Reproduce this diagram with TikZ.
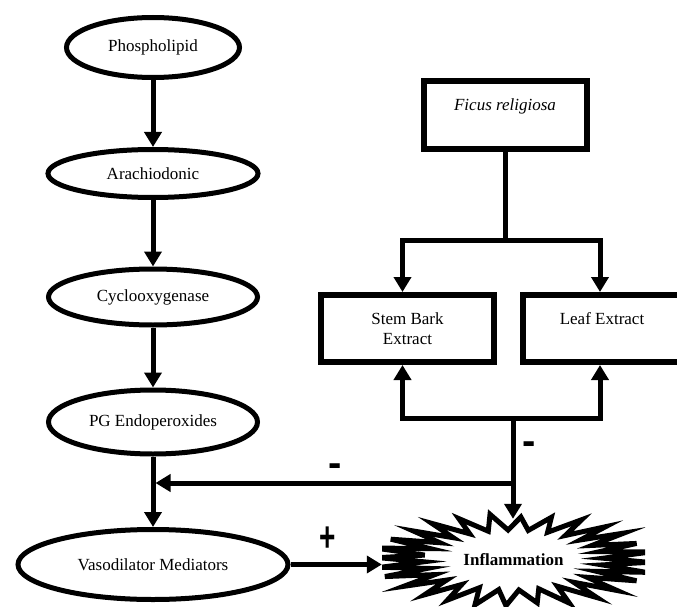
\documentclass[tikz,border=0pt]{standalone}
\usepackage{fontspec}
\setmainfont{Liberation Serif}
\newfontfamily\signfont{Liberation Sans}
\usetikzlibrary{shapes.geometric,arrows.meta,calc}
\begin{document}
\begin{tikzpicture}[x=1pt,y=-1pt,
  every node/.style={font=\fontsize{17}{20}\selectfont},
  oval/.style={ellipse,draw,line width=5pt,fill=white,inner sep=0pt},
  panel/.style={rectangle,draw,line width=6pt,fill=white,inner sep=0pt,align=center},
  arr/.style={line width=5pt,-{Triangle[width=17pt,length=15pt]}},
  ln/.style={line width=5pt},
  burst/.style={draw,fill=white,line width=5pt,line join=miter},
  sign/.style={font=\signfont\bfseries\fontsize{40}{40}\selectfont,inner sep=0pt}]
\useasboundingbox (0,0) rectangle (677,607);
\fill[white] (0,0) rectangle (677,607);
% left chain
\node[oval,minimum width=173pt,minimum height=60pt] (phos) at (153,47.5) {Phospholipid};
\node[oval,minimum width=210pt,minimum height=48pt] (arach) at (153,173.5) {Arachiodonic};
\node[oval,minimum width=209pt,minimum height=56pt] (cox) at (153,297) {Cyclooxygenase};
\node[oval,minimum width=209pt,minimum height=64pt] (pg) at (153,422) {PG Endoperoxides};
\node[oval,minimum width=270pt,minimum height=70pt] (vaso) at (153,564.5) {Vasodilator Mediators};
% right side
\node[panel,minimum width=163pt,minimum height=68pt] (ficus) at (505,115) {\textit{Ficus religiosa}\\ \mbox{}};
\node[panel,minimum width=173pt,minimum height=67pt] (stem) at (407.5,328.5) {Stem Bark\\Extract};
\node[panel,minimum width=158pt,minimum height=67pt] (leaf) at (602,328.5) {Leaf Extract\\ \mbox{}};
% inflammation burst
\begin{scope}
\clip (382,495) rectangle (645,612);
\pgfmathsetseed{7}
\draw[burst] plot[domain=0:55,samples=56]
  ({513.5+(mod(\x,2)<0.5 ? 145*(0.92+0.08*rnd) : 90)*cos(\x*6.4286+3)},
   {560+(mod(\x,2)<0.5 ? 47*(0.9+0.1*rnd) : 30)*sin(\x*6.4286+3)}) -- cycle;
\end{scope}
\node[ellipse,inner sep=0pt,minimum width=263pt,minimum height=82pt,
  font=\bfseries\fontsize{17}{20}\selectfont] (infl) at (513.5,560) {Inflammation};
% coordinates
\coordinate (jt) at (505,240);
\coordinate (jb) at (513,418);
\coordinate (jm) at (513,483);
% connectors
\draw[arr] (phos) -- (arach);
\draw[arr] (arach) -- (cox);
\draw[arr] (cox) -- (pg);
\draw[arr] (pg) -- (vaso);
\draw[arr] (vaso.east) -- (vaso.east -| infl.west);
\draw[ln] (ficus.south) -- (jt);
\draw[arr] (jt) -| ([xshift=-5pt]stem.north);
\draw[arr] (jt) -| ([xshift=-2pt]leaf.north);
\draw[arr] (jb) -| ([xshift=-5pt]stem.south);
\draw[arr] (jb) -| ([xshift=-2pt]leaf.south);
\draw[arr] (jb) -- (jb |- infl.north);
\draw[arr] (jm) -- ($(jm -| pg.south)+(2.5,0)$);
% signs
\node[sign] (m1) at (335,470) {-};
\node[sign] (m2) at (529,448) {-};
\node[sign] (p1) at (328,539) {\scalebox{0.7}[1.05]{+}};
\end{tikzpicture}
\end{document}
